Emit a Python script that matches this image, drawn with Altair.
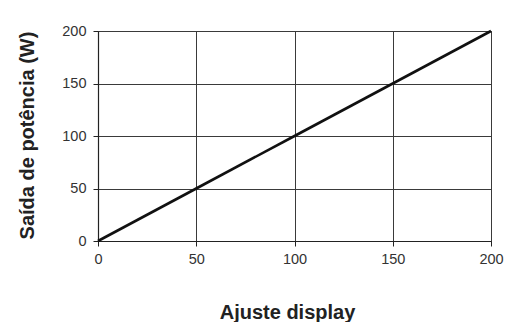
import altair as alt
import pandas as pd

ajuste = [0, 50, 100, 150, 200]
potencia = [0, 50, 100, 150, 200]
ticks = [0, 50, 100, 150, 200]

df = pd.DataFrame({"ajuste": ajuste, "potencia": potencia})

font = "Liberation Sans"

chart = alt.Chart(df).mark_line(color="#111111", strokeWidth=2.6).encode(
    x=alt.X("ajuste:Q",
            scale=alt.Scale(domain=[0, 200], nice=False),
            axis=alt.Axis(values=ticks, title="Ajuste display", labelFlush=False,
                          titleX=189, titleY=71, titleBaseline="middle",
                          titleAlign="center", titleAngle=0)),
    y=alt.Y("potencia:Q",
            scale=alt.Scale(domain=[0, 200], nice=False),
            axis=alt.Axis(values=ticks, title="Saída de potência (W)", labelFlush=False,
                          titleX=-71, titleY=104, titleBaseline="middle",
                          titleAlign="center", titleAngle=270)),
).properties(
    width=393, height=210,
    autosize=alt.AutoSizeParams(type="none"),
    padding={"left": 90, "top": 23, "right": 17, "bottom": 81},
    background="white",
).configure_axis(
    grid=True,
    gridColor="#3a3a3a", gridOpacity=1, gridWidth=1,
    domainColor="#222222", domainWidth=1.2,
    tickColor="#222222", tickSize=5, tickWidth=1,
    labelFont=font, labelFontSize=14.5, labelColor="#333333",
    titleFont=font, titleFontSize=20, titleFontWeight="bold", titleColor="#222222",
).configure_axisX(labelPadding=6).configure_axisY(labelPadding=7).configure_view(
    stroke="#3a3a3a", strokeWidth=1
)

chart.save("out.html", embed_options={"renderer": "svg", "actions": False})
